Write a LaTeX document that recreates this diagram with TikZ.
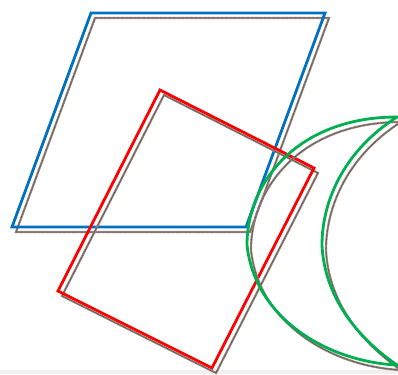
\documentclass[tikz,border=0pt]{standalone}
\usepackage{tikz}
\tikzset{
  shadowline/.style = {
    draw={rgb,255:red,150;green,134;blue,126}, line width=2.2pt, line join=miter
  },
  shadowdots/.style = {
    draw=black!85, line width=0.5pt, dash pattern=on 0.5pt off 0.8pt
  },
  blueline/.style  = {draw={rgb,255:red,0;green,112;blue,192}, line width=2.8pt},
  redline/.style   = {draw={rgb,255:red,255;green,0;blue,0}, line width=2.8pt},
  greenline/.style = {draw={rgb,255:red,0;green,176;blue,80}, line width=2.8pt}
}

\begin{document}
\begin{tikzpicture}[x=1pt, y=-1pt]

  \useasboundingbox (0,0) rectangle (398,374);
  \fill[black!6] (0,370) rectangle (398,374);

  % blue parallelogram
  \draw[shadowline, shift={(4,5)}] (91,13) -- (325,13) -- (246,227) -- (12,227) -- cycle;
  \draw[shadowdots, shift={(4,5)}] (91,13) -- (325,13) -- (246,227) -- (12,227) -- cycle;
  \draw[blueline] (91,13) -- (325,13) -- (246,227) -- (12,227) -- cycle;

  % red rectangle
  \draw[shadowline, shift={(4,5)}] (160,90) -- (314,168) -- (212,368) -- (58,291) -- cycle;
  \draw[shadowdots, shift={(4,5)}] (160,90) -- (314,168) -- (212,368) -- (58,291) -- cycle;
  \draw[redline] (160,90) -- (314,168) -- (212,368) -- (58,291) -- cycle;

  % green crescent
  \draw[shadowline, shift={(4,5)}] (397,117)
      .. controls (300,117) and (247,180) .. (247,245)
      .. controls (255,320) and (330,362) .. (397,365)
      .. controls (375,350) and (325,310) .. (322,245)
      .. controls (322,200) and (345,150) .. cycle;
  \draw[shadowdots, shift={(4,5)}] (397,117)
      .. controls (300,117) and (247,180) .. (247,245)
      .. controls (255,320) and (330,362) .. (397,365)
      .. controls (375,350) and (325,310) .. (322,245)
      .. controls (322,200) and (345,150) .. cycle;
  \draw[greenline] (397,117)
      .. controls (300,117) and (247,180) .. (247,245)
      .. controls (255,320) and (330,362) .. (397,365)
      .. controls (375,350) and (325,310) .. (322,245)
      .. controls (322,200) and (345,150) .. cycle;

\end{tikzpicture}
\end{document}
